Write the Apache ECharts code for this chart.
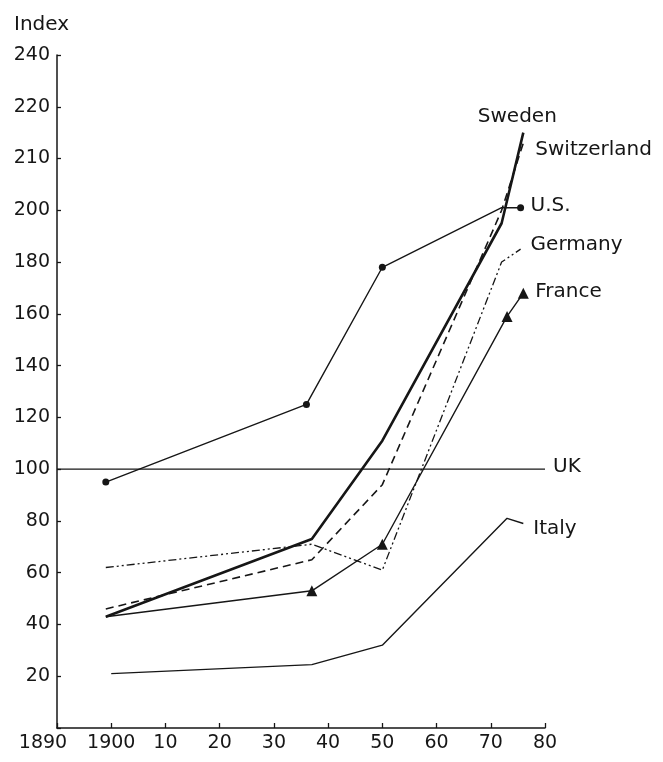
<!DOCTYPE html>
<html>
<head>
<meta charset="utf-8">
<script src="https://cdn.jsdelivr.net/npm/echarts@6/dist/echarts.min.js"></script>
<style>
html,body{margin:0;padding:0;background:#fff;}
#chart{width:663px;height:762px;}
</style>
</head>
<body>
<div id="chart"></div>
<script>
// ---- data ----
const xTickLabels = ['1890', '1900', '10', '20', '30', '40', '50', '60', '70', '80'];
const yTickLabels = ['', '20', '40', '60', '80', '100', '120', '140', '160', '180', '200', '210', '220', '240'];

const seriesNames = ['Sweden', 'Switzerland', 'U.S.', 'Germany', 'France', 'UK', 'Italy'];

const swedenYears = [1899, 1937, 1950, 1972, 1976];
const swedenValues = [43, 73, 111, 195, 230];

const switzerlandYears = [1899, 1937, 1950, 1972, 1976];
const switzerlandValues = [46, 65, 94, 200, 226];

const usYears = [1899, 1936, 1950, 1972, 1975.5];
const usValues = [95, 125, 178, 201, 201];

const germanyYears = [1899, 1937, 1950, 1972, 1975.5];
const germanyValues = [62, 71, 61, 180, 185];

const franceYears = [1899, 1937, 1950, 1973, 1976];
const franceValues = [43, 53, 71, 159, 168];

const ukYears = [1890, 1980];
const ukValues = [100, 100];

const italyYears = [1900, 1937, 1950, 1973, 1976];
const italyValues = [21, 24.5, 32, 81, 79];

// ---- chart ----
const ink = '#161616';
const font = 'DejaVu Sans';
function pairs(xs, ys) { return xs.map((x, i) => [x, ys[i]]); }

function endLabel(offset, align) {
  return {
    show: true,
    formatter: p => p.seriesName,
    color: ink,
    fontFamily: font,
    fontSize: 20,
    distance: 0,
    align: align || 'left',
    verticalAlign: 'middle',
    offset: offset
  };
}

function lineSeries(name, data, style, extra) {
  return Object.assign({
    name: name,
    type: 'line',
    data: data,
    symbol: 'none',
    showSymbol: false,
    lineStyle: Object.assign({ color: ink, width: 1.4 }, style),
    itemStyle: { color: ink },
    emphasis: { disabled: true },
    z: 3
  }, extra || {});
}

const chart = echarts.init(document.getElementById('chart'), null, { renderer: 'canvas' });
chart.setOption({
  animation: false,
  backgroundColor: '#fff',
  title: {
    text: 'Index',
    left: 14,
    top: 15,
    padding: 0,
    textStyle: { fontFamily: font, fontSize: 20, fontWeight: 'normal', color: ink }
  },
  grid: { left: 57, right: 118, top: 55, bottom: 34, containLabel: false },
  xAxis: {
    type: 'value',
    min: 1890,
    max: 1980,
    interval: 10,
    splitLine: { show: false },
    axisLine: { show: true, lineStyle: { color: ink, width: 1.5 } },
    axisTick: { show: true, inside: true, length: 5, lineStyle: { color: ink, width: 1.3 } },
    axisLabel: {
      color: ink, fontFamily: font, fontSize: 19, margin: 6,
      formatter: v => {
        const i = Math.round((v - 1890) / 10);
        return i === 0 ? '{first|' + xTickLabels[i] + '}' : xTickLabels[i];
      },
      rich: {
        first: { fontFamily: font, fontSize: 19, color: ink, padding: [0, 28, 0, 0] }
      }
    }
  },
  yAxis: {
    type: 'value',
    min: 0,
    max: 260,
    interval: 20,
    splitLine: { show: false },
    axisLine: { show: true, lineStyle: { color: ink, width: 1.5 } },
    axisTick: { show: true, inside: true, length: 4, lineStyle: { color: ink, width: 1.3 } },
    axisLabel: {
      color: ink, fontFamily: font, fontSize: 19, margin: 7,
      formatter: v => yTickLabels[Math.round(v / 20)]
    }
  },
  series: [
    lineSeries(seriesNames[0], pairs(swedenYears, swedenValues), { width: 2.6 },
      { endLabel: endLabel([-6, -16], 'center') }),
    lineSeries(seriesNames[1], pairs(switzerlandYears, switzerlandValues), { width: 1.6, type: [8, 5] },
      { endLabel: endLabel([12, 7]) }),
    lineSeries(seriesNames[2], pairs(usYears, usValues), { width: 1.4 }, {
      symbol: 'circle',
      showSymbol: true,
      symbolSize: (v, p) => (p.dataIndex === 3 ? 0 : 7),
      endLabel: endLabel([10, -2])
    }),
    lineSeries(seriesNames[3], pairs(germanyYears, germanyValues), { width: 1.3, type: [8, 3, 2, 3, 2, 3] },
      { endLabel: endLabel([10, -4]) }),
    lineSeries(seriesNames[4], pairs(franceYears, franceValues), { width: 1.4 }, {
      symbol: 'triangle',
      showSymbol: true,
      symbolSize: (v, p) => (p.dataIndex === 0 ? 0 : 11),
      endLabel: endLabel([12, -1])
    }),
    lineSeries(seriesNames[5], pairs(ukYears, ukValues), { width: 1.4 },
      { endLabel: endLabel([8, -2]) }),
    lineSeries(seriesNames[6], pairs(italyYears, italyValues), { width: 1.4 },
      { endLabel: endLabel([10, 5]) })
  ]
});
</script>
</body>
</html>
